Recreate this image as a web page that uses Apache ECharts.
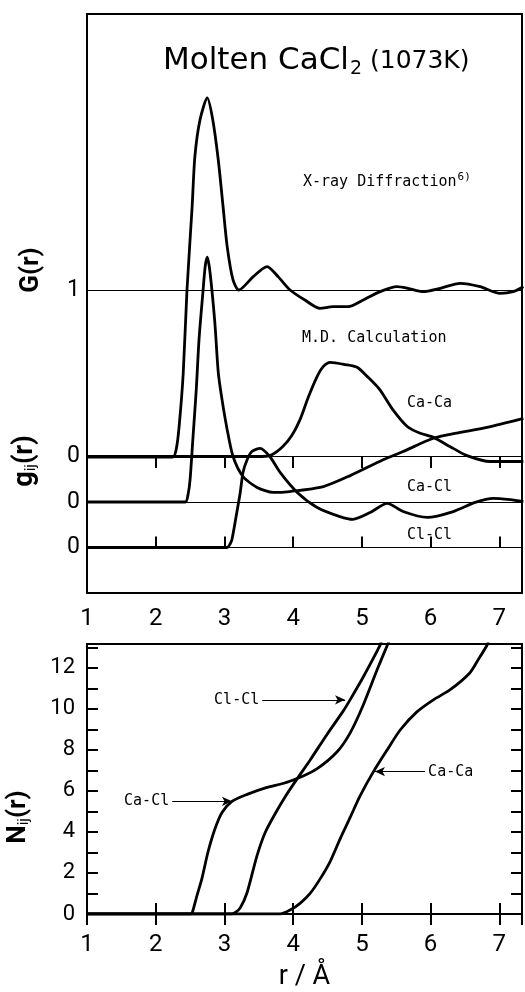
<!DOCTYPE html>
<html>
<head>
<meta charset="utf-8">
<title>Molten CaCl2 (1073K)</title>
<script src="https://cdn.jsdelivr.net/npm/echarts@6.0.0/dist/echarts.min.js"></script>
<style>
  html, body { margin: 0; padding: 0; background: #fff; }
  #chart { width: 525px; height: 992px; }
</style>
</head>
<body>
<div id="chart"></div>
<script>
// [r (Å), value]

// X-ray diffraction G(r)
const xrayG = [
  [1.00, 0], [2.25, 0], [2.30, 0.05], [2.34, 0.18], [2.40, 0.50], [2.455, 1.00],
  [2.53, 1.50], [2.57, 1.80], [2.645, 2.02], [2.75, 2.15], [2.83, 2.02], [2.91, 1.78],
  [2.98, 1.50], [3.04, 1.26], [3.125, 1.06], [3.21, 1.00], [3.42, 1.08], [3.62, 1.14],
  [3.78, 1.08], [3.955, 1.00], [4.17, 0.94], [4.39, 0.89], [4.58, 0.90], [4.80, 0.90],
  [5.02, 0.94], [5.265, 0.99], [5.51, 1.02], [5.67, 1.01], [5.89, 0.99], [6.14, 1.01],
  [6.43, 1.04], [6.72, 1.02], [7.01, 0.98], [7.20, 0.99], [7.35, 1.02]
];

// M.D. partial g_ij(r)
const gCaCa = [
  [1.00, 0], [3.55, 0], [3.69, 0.04], [3.85, 0.22], [3.98, 0.46], [4.10, 0.81],
  [4.22, 1.30], [4.35, 1.76], [4.44, 1.98], [4.54, 2.07], [4.76, 2.02], [4.93, 1.96],
  [5.09, 1.74], [5.26, 1.47], [5.45, 1.03], [5.66, 0.66], [5.85, 0.51], [6.04, 0.42],
  [6.28, 0.22], [6.53, 0.02], [6.87, -0.11], [7.35, -0.11]
];
const gCaCl = [
  [1.00, 0], [2.43, 0], [2.47, 0.16], [2.50, 0.49], [2.54, 1.37], [2.59, 2.47],
  [2.63, 3.57], [2.69, 4.67], [2.72, 5.18], [2.75, 5.38], [2.79, 5.05], [2.86, 3.95],
  [2.91, 2.85], [2.965, 2.25], [3.04, 1.59], [3.125, 1.00], [3.27, 0.56], [3.475, 0.32],
  [3.71, 0.21], [3.95, 0.23], [4.44, 0.34], [4.83, 0.58], [5.31, 0.93], [5.60, 1.11],
  [6.04, 1.40], [6.43, 1.53], [6.82, 1.64], [7.35, 1.84]
];
const gClCl = [
  [1.00, 0], [3.04, 0], [3.08, 0.07], [3.11, 0.18], [3.18, 0.77], [3.23, 1.21],
  [3.27, 1.65], [3.33, 1.93], [3.40, 2.11], [3.52, 2.18], [3.66, 2.00], [3.81, 1.65],
  [4.06, 1.21], [4.35, 0.88], [4.68, 0.68], [4.87, 0.62], [5.12, 0.77], [5.37, 0.97],
  [5.60, 0.79], [5.95, 0.66], [6.33, 0.79], [6.65, 0.99], [6.91, 1.08], [7.16, 1.05],
  [7.35, 1.01]
];

// running coordination numbers N_ij(r)
const nCaCl = [
  [1.00, 0], [2.50, 0], [2.53, 0.05], [2.60, 0.90], [2.67, 1.70], [2.76, 3.01],
  [2.86, 4.13], [2.965, 4.95], [3.11, 5.49], [3.33, 5.83], [3.62, 6.17], [3.85, 6.36],
  [4.06, 6.60], [4.35, 7.09], [4.64, 7.91], [4.83, 8.83], [5.02, 10.19], [5.22, 11.89],
  [5.37, 13.10], [5.41, 13.40]
];
const nClCl = [
  [1.00, 0], [3.10, 0], [3.16, 0.08], [3.23, 0.30], [3.33, 1.05], [3.47, 2.80],
  [3.59, 3.95], [3.74, 4.90], [3.90, 5.80], [4.06, 6.60], [4.25, 7.52], [4.49, 8.74],
  [4.73, 9.90], [4.83, 10.45], [5.02, 11.55], [5.265, 13.10], [5.29, 13.40]
];
const nCaCa = [
  [1.00, 0], [3.81, 0], [3.955, 0.19], [4.10, 0.52], [4.25, 1.02], [4.39, 1.70],
  [4.54, 2.57], [4.68, 3.64], [4.83, 4.71], [4.97, 5.73], [5.16, 6.89], [5.37, 8.01],
  [5.56, 8.98], [5.80, 9.85], [6.04, 10.44], [6.28, 10.92], [6.57, 11.75], [6.69, 12.38],
  [6.82, 13.10], [6.85, 13.40]
];

// stacking of the g_ij curves (each zero line one unit above the next)
const OFFSET_CACA = 2, OFFSET_CACL = 1, OFFSET_CLCL = 0;

const R_MIN = 1, R_MAX = 7.33;
const N_MAX = 13.16;

const shift = (pts, d) => pts.map(p => [p[0], p[1] + d]);

const chart = echarts.init(document.getElementById('chart'));

const BLACK = '#000';
const NUM_FONT = 'Roboto';
const TITLE_FONT = 'DejaVu Sans';
const MONO = 'DejaVu Sans Mono';

const inTick = {show: true, inside: true, length: 11, lineStyle: {color: BLACK, width: 2}};
const intLabel = v => (Number.isInteger(v) ? String(v) : '');
const evenLabel = v => (Number.isInteger(v) && v % 2 === 0 ? String(v) : '');

const curveStyle = {color: BLACK, width: 2.8};

function baseLine(value, text) {
  return {
    silent: true,
    symbol: 'none',
    lineStyle: {color: BLACK, width: 1, type: 'solid'},
    label: {show: true, position: 'start', distance: 7, formatter: text,
      fontFamily: NUM_FONT, fontSize: 23, color: BLACK},
    data: [{yAxis: value}]
  };
}

function arrow(from, to, text) {
  return {
    silent: true,
    symbol: ['none', 'arrow'],
    symbolSize: [7, 10],
    lineStyle: {color: BLACK, width: 1.2, type: 'solid'},
    label: {show: true, position: 'start', distance: 3, formatter: text,
      fontFamily: MONO, fontSize: 15, color: BLACK},
    data: [[{coord: from}, {coord: to}]]
  };
}

function line(name, data, xi, yi, extra) {
  return Object.assign({
    name, type: 'line', xAxisIndex: xi, yAxisIndex: yi, data,
    showSymbol: false, smooth: 0.25, clip: true,
    lineStyle: curveStyle, z: 3
  }, extra || {});
}

const option = {
  animation: false,
  backgroundColor: '#fff',
  title: {
    text: '{a|Molten CaCl}{b|2}{c| (1073K)}',
    left: 158, top: 36,
    textStyle: {
      fontWeight: 'normal',
      rich: {
        a: {fontFamily: TITLE_FONT, fontWeight: 'normal', fontSize: 31, color: BLACK, lineHeight: 40},
        b: {fontFamily: TITLE_FONT, fontWeight: 'normal', fontSize: 19, color: BLACK, lineHeight: 40, padding: [16, 0, 0, 1]},
        c: {fontFamily: TITLE_FONT, fontWeight: 'normal', fontSize: 25, color: BLACK, lineHeight: 40}
      }
    }
  },
  grid: [
    {left: 87, top: 14, width: 435, height: 579, show: true, borderColor: BLACK, borderWidth: 2},
    {left: 87, top: 644, width: 435, height: 271, show: true, borderColor: BLACK, borderWidth: 2}
  ],
  xAxis: [
    {gridIndex: 0, type: 'value', min: R_MIN, max: R_MAX, interval: 1, position: 'bottom',
      axisLine: {show: false}, axisTick: inTick, splitLine: {show: false},
      axisLabel: {fontFamily: NUM_FONT, fontSize: 24, color: BLACK, margin: 14,
        showMaxLabel: false, formatter: intLabel}},
    {gridIndex: 0, type: 'value', min: R_MIN, max: R_MAX, interval: 1, position: 'top',
      axisLine: {show: false}, axisTick: inTick, splitLine: {show: false}, axisLabel: {show: false}},
    {gridIndex: 1, type: 'value', min: R_MIN, max: R_MAX, interval: 1, position: 'bottom',
      axisLine: {show: false}, axisTick: inTick, splitLine: {show: false},
      axisLabel: {fontFamily: NUM_FONT, fontSize: 24, color: BLACK, margin: 19,
        showMaxLabel: false, formatter: intLabel},
      name: 'r / Å', nameLocation: 'middle', nameGap: 50,
      nameTextStyle: {fontFamily: NUM_FONT, fontSize: 27, color: BLACK}},
    {gridIndex: 1, type: 'value', min: R_MIN, max: R_MAX, interval: 1, position: 'top',
      axisLine: {show: false}, axisTick: inTick, splitLine: {show: false}, axisLabel: {show: false}}
  ],
  yAxis: [
    // stacked g_ij
    {gridIndex: 0, type: 'value', min: -1, max: 11.725, show: false},
    // X-ray G(r)
    {gridIndex: 0, type: 'value', min: -0.8144, max: 2.6527, show: false},
    {gridIndex: 1, type: 'value', min: 0, max: N_MAX, interval: 1, position: 'left',
      axisLine: {show: false}, axisTick: inTick, splitLine: {show: false},
      axisLabel: {fontFamily: NUM_FONT, fontSize: 22, color: BLACK, margin: 12,
        showMaxLabel: false, formatter: evenLabel}},
    {gridIndex: 1, type: 'value', min: 0, max: N_MAX, interval: 1, position: 'right',
      axisLine: {show: false}, axisTick: inTick, splitLine: {show: false}, axisLabel: {show: false}}
  ],
  graphic: [
    {type: 'text', x: 31, y: 270, rotation: Math.PI / 2,
      style: {text: 'G(r)', fontFamily: NUM_FONT, fontWeight: 'bold', fontSize: 26, fill: BLACK,
        align: 'center', verticalAlign: 'middle'}},
    {type: 'text', x: 25, y: 461, rotation: Math.PI / 2,
      style: {text: '{a|g}{b|ij}{a|(r)}', align: 'center', verticalAlign: 'middle',
        rich: {
          a: {fontFamily: NUM_FONT, fontWeight: 'bold', fontSize: 27, fill: BLACK, lineHeight: 30},
          b: {fontFamily: NUM_FONT, fontSize: 15, fill: BLACK, lineHeight: 30, padding: [12, 0, 0, 0]}
        }}},
    {type: 'text', x: 18, y: 817, rotation: Math.PI / 2,
      style: {text: '{a|N}{b|ij}{a|(r)}', align: 'center', verticalAlign: 'middle',
        rich: {
          a: {fontFamily: NUM_FONT, fontWeight: 'bold', fontSize: 26, fill: BLACK, lineHeight: 30},
          b: {fontFamily: NUM_FONT, fontSize: 15, fill: BLACK, lineHeight: 30, padding: [12, 0, 0, 0]}
        }}},
    {type: 'text', x: 303, y: 182,
      style: {text: '{m|X-ray Diffraction}{s|6)}', verticalAlign: 'middle',
        rich: {
          m: {fontFamily: MONO, fontSize: 15, fill: BLACK, lineHeight: 20},
          s: {fontFamily: MONO, fontSize: 11, fill: BLACK, lineHeight: 20, padding: [0, 0, 9, 1]}
        }}},
    {type: 'text', x: 302, y: 338,
      style: {text: 'M.D. Calculation', fontFamily: MONO, fontSize: 15, fill: BLACK, verticalAlign: 'middle'}},
    {type: 'text', x: 407, y: 403,
      style: {text: 'Ca-Ca', fontFamily: MONO, fontSize: 15, fill: BLACK, verticalAlign: 'middle'}},
    {type: 'text', x: 407, y: 487,
      style: {text: 'Ca-Cl', fontFamily: MONO, fontSize: 15, fill: BLACK, verticalAlign: 'middle'}},
    {type: 'text', x: 407, y: 535,
      style: {text: 'Cl-Cl', fontFamily: MONO, fontSize: 15, fill: BLACK, verticalAlign: 'middle'}}
  ],
  series: [
    line('X-ray G(r)', xrayG, 0, 1, {markLine: baseLine(1, '1')}),
    line('g Ca-Ca', shift(gCaCa, OFFSET_CACA), 0, 0, {markLine: baseLine(OFFSET_CACA, '0')}),
    line('g Ca-Cl', shift(gCaCl, OFFSET_CACL), 0, 0, {markLine: baseLine(OFFSET_CACL, '0')}),
    line('g Cl-Cl', shift(gClCl, OFFSET_CLCL), 0, 0, {markLine: baseLine(OFFSET_CLCL, '0')}),
    line('N Ca-Cl', nCaCl, 2, 2, {markLine: arrow([2.24, 5.49], [3.11, 5.49], 'Ca-Cl')}),
    line('N Cl-Cl', nClCl, 2, 2, {markLine: arrow([3.55, 10.44], [4.755, 10.44], 'Cl-Cl')}),
    line('N Ca-Ca', nCaCa, 2, 2, {markLine: arrow([5.92, 6.94], [5.19, 6.94], 'Ca-Ca')})
  ]
};

chart.setOption(option);
</script>
</body>
</html>
